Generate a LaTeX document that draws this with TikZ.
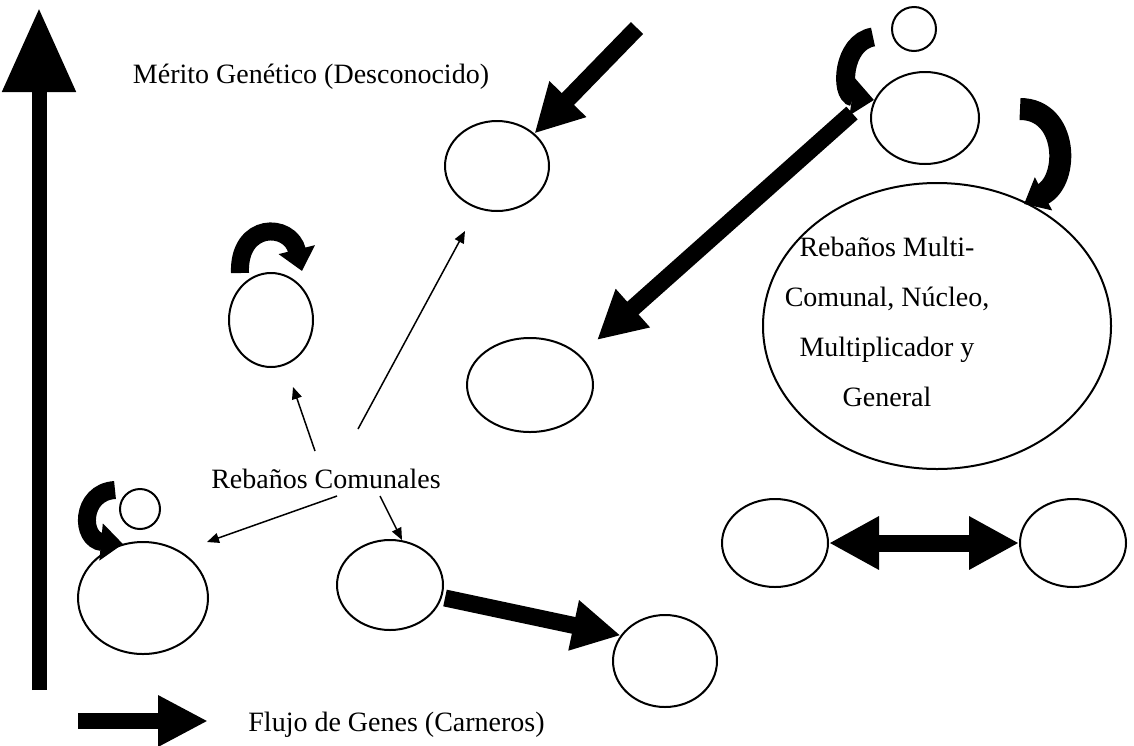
\documentclass[tikz,border=0pt]{standalone}
\usepackage{fontspec}
\setmainfont{Liberation Serif}
\usetikzlibrary{arrows.meta,shapes.geometric}
\begin{document}
\begin{tikzpicture}[x=0.5pt,y=-0.5pt,
  herd/.style={draw, line width=1pt, ellipse, inner sep=0pt},
  lbl/.style={font=\fontsize{14}{25}\selectfont, inner sep=0pt},
  fat/.style={line width=8.5pt, -{Triangle[length=24pt,width=24pt]}},
  thinarr/.style={line width=0.75pt, -{Triangle[length=6pt,width=5pt]}},
  bendarr/.style={line width=9pt, -{Triangle[length=11pt,width=18pt]}}
]
\useasboundingbox (0,0) rectangle (1134,745);
% herds
\node[herd, minimum width=52pt, minimum height=45pt] (e1) at (497,166) {};
\node[herd, minimum width=42pt, minimum height=47pt] (e2) at (271,320) {};
\node[herd, minimum width=63pt, minimum height=47pt] (e3) at (530,385) {};
\node[herd, minimum width=22pt, minimum height=22pt] (e4) at (914,29) {};
\node[herd, minimum width=54pt, minimum height=46pt] (e5) at (925,118) {};
\node[herd, minimum width=174pt, minimum height=143pt] (e6) at (937,326) {};
\node[herd, minimum width=65pt, minimum height=56pt] (e7) at (143,598) {};
\node[herd, minimum width=20pt, minimum height=20pt] (e8) at (140,509) {};
\node[herd, minimum width=53pt, minimum height=45pt] (e9) at (390,585) {};
\node[herd, minimum width=52pt, minimum height=46pt] (e10) at (665,661) {};
\node[herd, minimum width=53pt, minimum height=44pt] (e11) at (775,543) {};
\node[herd, minimum width=53pt, minimum height=44pt] (e12) at (1073,543) {};
% texts
\node[lbl] (mg) at (311,77) {Mérito Genético (Desconocido)};
\node[lbl, anchor=base west] (fg) at (248,731) {Flujo de Genes (Carneros)};
\node[lbl] (rc) at (326,479) {Rebaños Comunales};
\node[lbl, align=center] (mt) at (887,322) {Rebaños Multi-\\Comunal, Núcleo,\\Multiplicador y\\General};
% axis arrows
\coordinate (vb) at (39,690);
\coordinate (vt) at (39,8);
\draw[line width=7.5pt, -{Triangle[length=42pt,width=35pt]}] (vb) -- (vt);
\coordinate (hb) at (78,721);
\coordinate (ht) at (208,721);
\draw[line width=8pt, -{Triangle[length=25pt,width=24pt]}] (hb) -- (ht);
% thick straight arrows
\coordinate (a0) at (637,28);
\draw[fat] (a0) -- (e1.41);
\coordinate (b0) at (852,113);
\coordinate (bt) at (597,340);
\draw[fat] (b0) -- (bt);
\coordinate (c0) at (445,598);
\draw[fat] (c0) -- (e10.150);
\draw[line width=8.5pt, {Triangle[length=25pt,width=25pt]}-{Triangle[length=25pt,width=25pt]}] (e11) -- (e12);
% thin arrows
\coordinate (s1) at (315,451); \coordinate (t1) at (293,387);
\coordinate (s2) at (358,429); \coordinate (t2) at (465,231);
\coordinate (s3) at (337,496); \coordinate (t3) at (207,542);
\coordinate (s4) at (380,496); \coordinate (t4) at (402,540);
\draw[thinarr] (s1) -- (t1);
\draw[thinarr] (s2) -- (t2);
\draw[thinarr] (s3) -- (t3);
\draw[thinarr] (s4) -- (t4);
% curved arrows
\coordinate (p0) at (240,273); \coordinate (p1) at (302,271);
\draw[bendarr] (p0) .. controls (238,222) and (290,222) .. (p1);
\coordinate (q0) at (115,490); \coordinate (q1) at (123,544);
\draw[bendarr] (q0) .. controls (80,492) and (80,540) .. (q1);
\coordinate (r0) at (873,37); \coordinate (r1) at (874,100);
\draw[bendarr, line width=9.5pt] (r0) .. controls (842,42) and (840,95) .. (r1);
\coordinate (u0) at (1020,109); \coordinate (u1) at (1024,204);
\draw[bendarr, line width=11pt] (u0) .. controls (1068,109) and (1070,180) .. (u1);
\end{tikzpicture}
\end{document}
